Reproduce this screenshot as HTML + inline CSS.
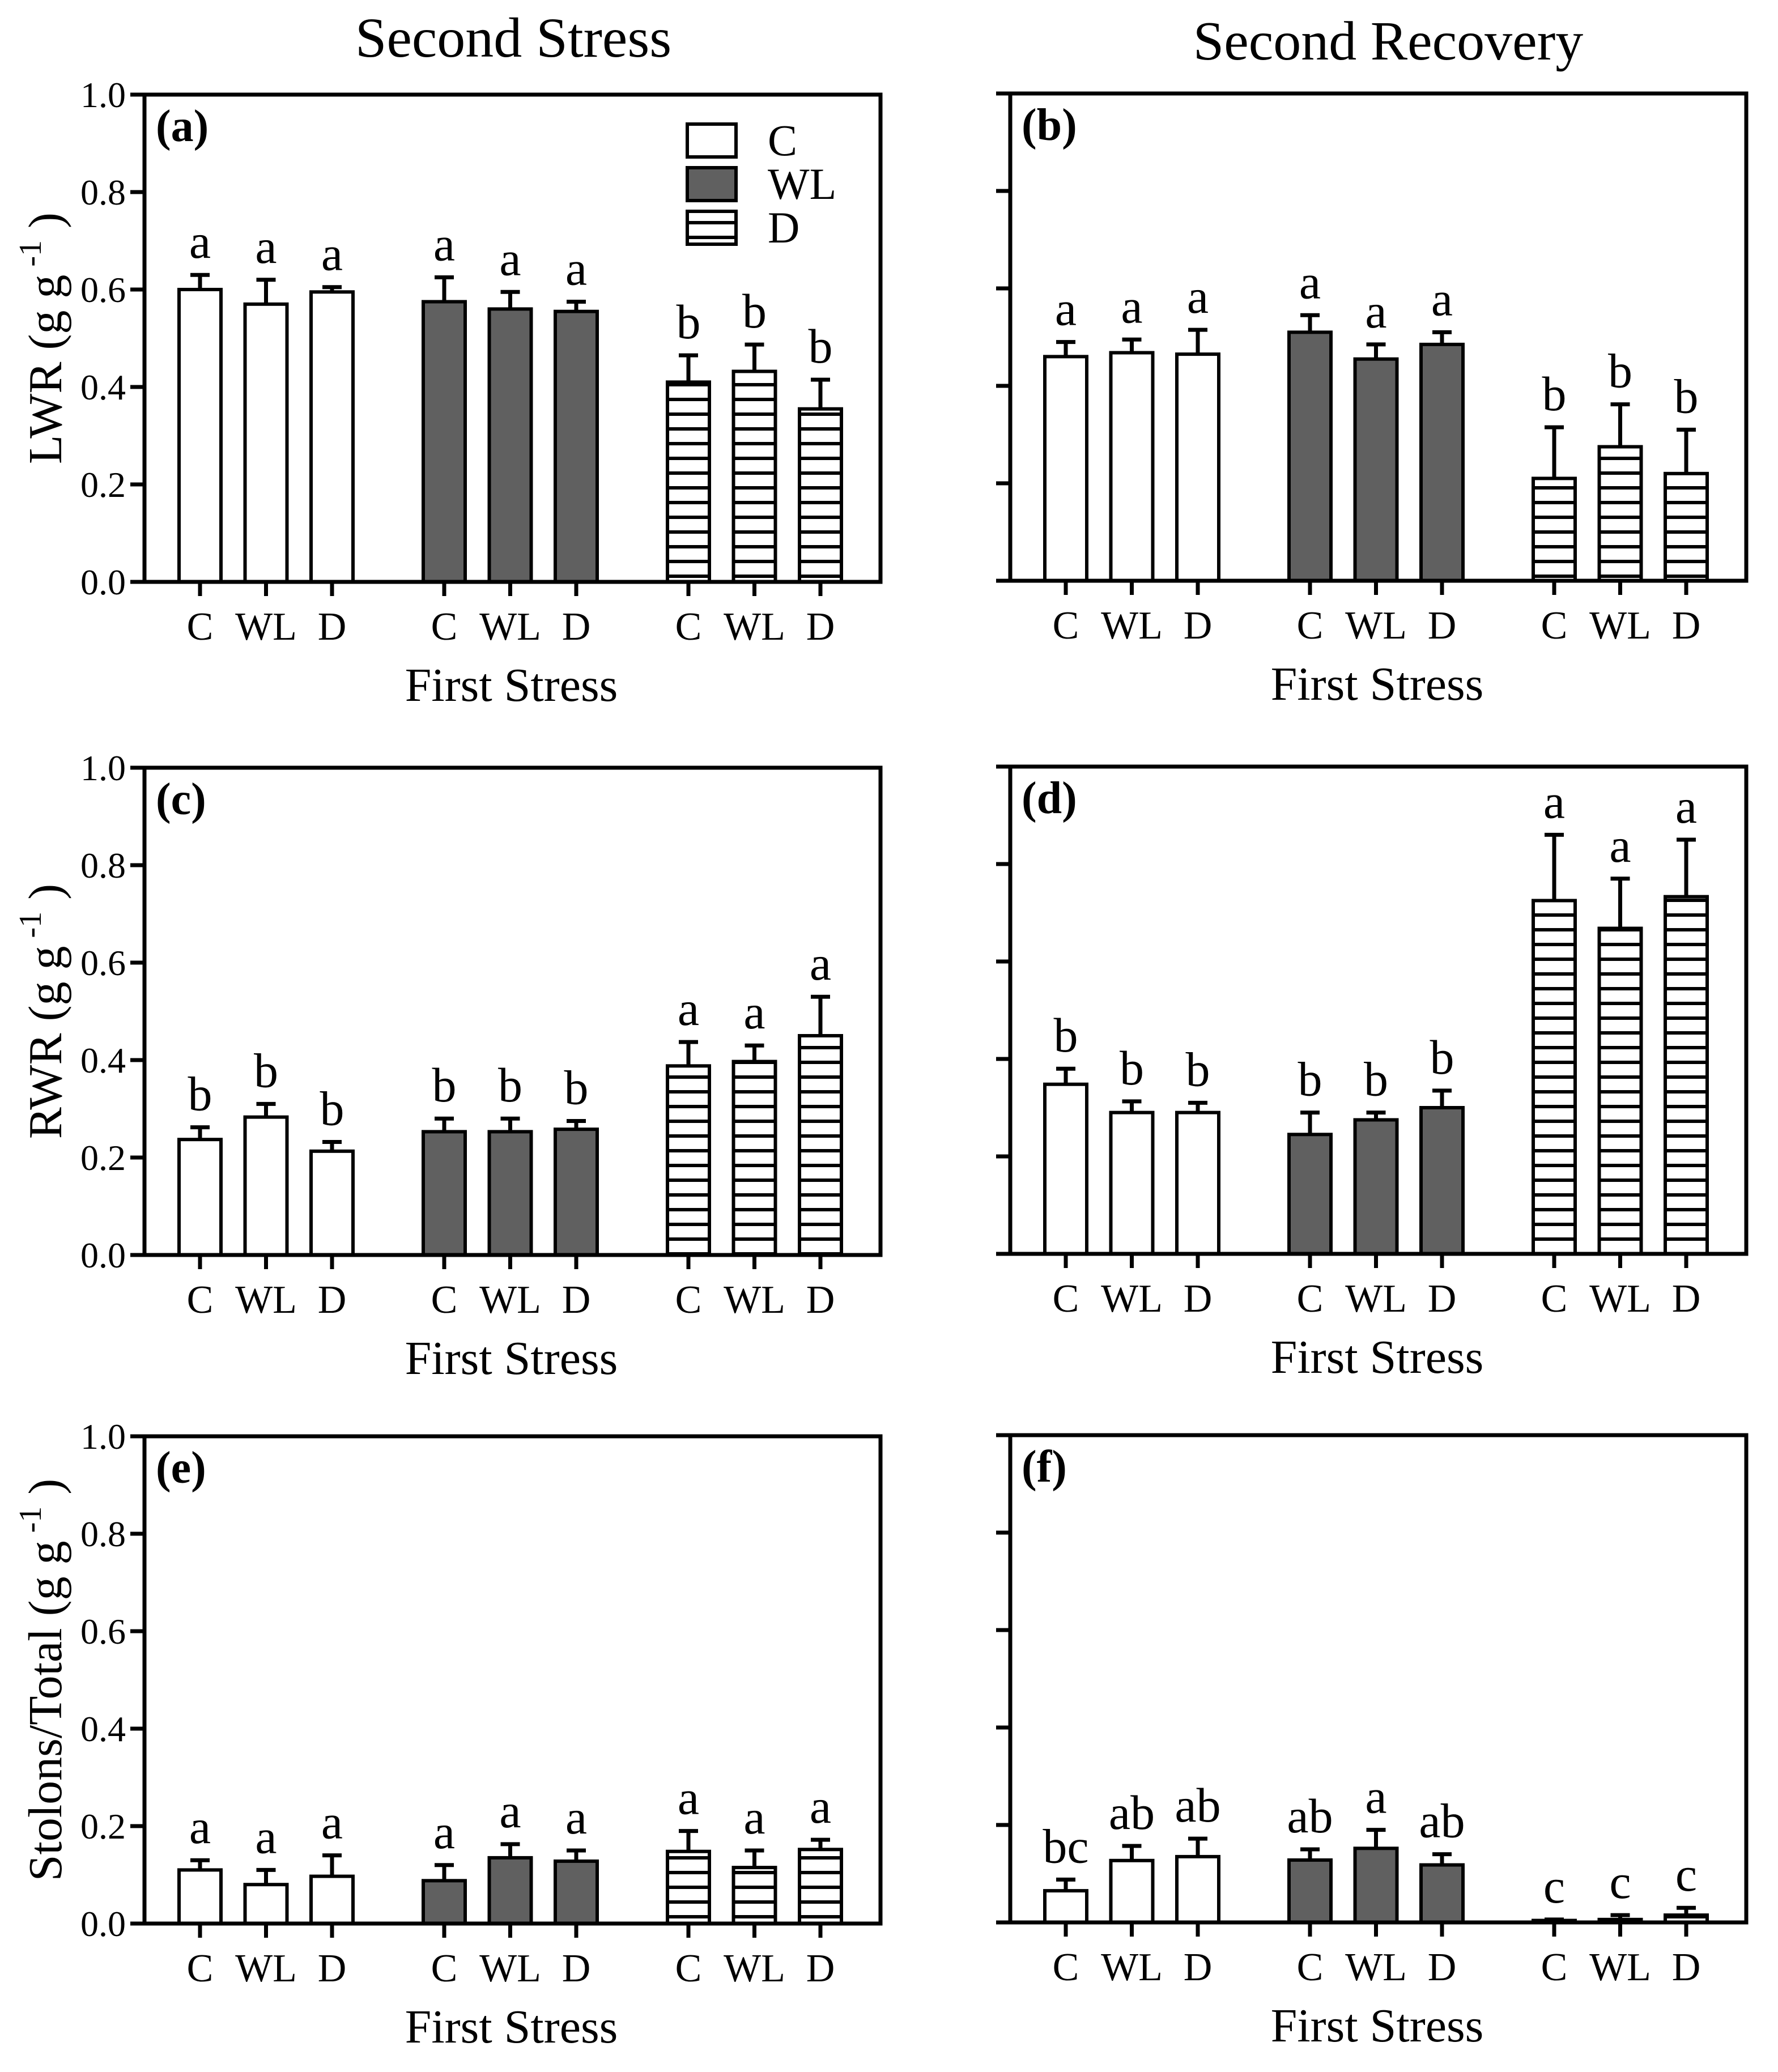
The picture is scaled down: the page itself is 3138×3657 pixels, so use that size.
<!DOCTYPE html>
<html><head><meta charset="utf-8"><style>
body{margin:0;background:#fff}
svg{display:block;font-family:"Liberation Serif",serif}
</style></head><body>
<svg id="chart" width="3138" height="3657" viewBox="0 0 3138 3657" xmlns="http://www.w3.org/2000/svg">
<defs>
<pattern id="hatch" patternUnits="userSpaceOnUse" width="40" height="26" y="0">
<rect x="0" y="0" width="40" height="26" fill="#fff"/>
<rect x="0" y="0" width="40" height="6" fill="#000"/>
</pattern>
</defs>
<text x="906" y="100" font-size="100" text-anchor="middle">Second Stress</text>
<text x="2450" y="105" font-size="98" text-anchor="middle">Second Recovery</text>
<g id="panels"></g>
</svg>
<script>
// shared categories
const groups = ['C','WL','D'];
const firstStress = ['C','WL','D'];
const yTicks = [0.0,0.2,0.4,0.6,0.8,1.0];
const yTickLabels = ['0.0','0.2','0.4','0.6','0.8','1.0'];

// panel (a) LWR second stress
const aVals = [0.60,0.57,0.595, 0.575,0.56,0.555, 0.41,0.432,0.355];
const aErr  = [0.63,0.62,0.605, 0.625,0.595,0.575, 0.465,0.487,0.415];
const aLet  = ['a','a','a','a','a','a','b','b','b'];
// panel (b) LWR second recovery
const bVals = [0.46,0.468,0.465, 0.51,0.455,0.485, 0.21,0.275,0.22];
const bErr  = [0.49,0.495,0.515, 0.545,0.485,0.51, 0.315,0.362,0.31];
const bLet  = ['a','a','a','a','a','a','b','b','b'];
// panel (c) RWR second stress
const cVals = [0.237,0.283,0.213, 0.253,0.253,0.258, 0.388,0.397,0.45];
const cErr  = [0.262,0.31,0.232, 0.28,0.28,0.275, 0.437,0.43,0.53];
const cLet  = ['b','b','b','b','b','b','a','a','a'];
// panel (d) RWR second recovery
const dVals = [0.348,0.29,0.29, 0.245,0.275,0.3, 0.725,0.668,0.733];
const dErr  = [0.38,0.313,0.31, 0.29,0.29,0.335, 0.86,0.77,0.85];
const dLet  = ['b','b','b','b','b','b','a','a','a'];
// panel (e) stolons second stress
const eVals = [0.11,0.08,0.097, 0.088,0.135,0.128, 0.148,0.115,0.152];
const eErr  = [0.13,0.11,0.14, 0.12,0.163,0.15, 0.19,0.15,0.172];
const eLet  = ['a','a','a','a','a','a','a','a','a'];
// panel (f) stolons second recovery
const fVals = [0.065,0.127,0.135, 0.128,0.152,0.118, 0.004,0.006,0.015];
const fErr  = [0.088,0.157,0.172, 0.15,0.19,0.14, 0.006,0.015,0.03];
const fLet  = ['bc','ab','ab','ab','a','ab','c','c','c'];

const NS='http://www.w3.org/2000/svg';
const root=document.getElementById('panels');
function mk(tag,attrs,parent){const e=document.createElementNS(NS,tag);for(const k in attrs)e.setAttribute(k,attrs[k]);(parent||root).appendChild(e);return e;}
const fills=['#fff','#606060','url(#hatch)'];
const W=1299,H=860;

function panel(key,px,py,vals,errs,lets,label,yTitle,showTickLabels,legend){
  const g=mk('g',{});
  
  
  const yS=v=>py+H-v*H;
  const xS=i=>px+98+(i%3)*116.5+Math.floor(i/3)*431;
  vals.forEach((v,i)=>{
    const gi=Math.floor(i/3);
    const x=xS(i), top=yS(v), bot=yS(0), et=yS(errs[i]);
    const l=mk('line',{x1:x,y1:top,x2:x,y2:et,stroke:'#000','stroke-width':7},g);
    
    
    const c=mk('line',{x1:x-17,y1:et,x2:x+17,y2:et,stroke:'#000','stroke-width':7},g);
    
    
    const r=mk('rect',{x:x-37,y:top,width:74,height:Math.max(bot-top,0.5),fill:fills[gi],stroke:'#000','stroke-width':6},g);
    
    
    const t=mk('text',{x:x,y:et-30,'font-size':86,'text-anchor':'middle'},g);
    t.textContent=lets[i];
    
    
    const tk=mk('line',{x1:x,y1:py+H,x2:x,y2:py+H+25,stroke:'#000','stroke-width':7},g);
    
    
    const xl=mk('text',{x:x,y:py+H+102,'font-size':70,'text-anchor':'middle'},g);
    xl.textContent=firstStress[i%3];
    
    
  });
  const fr=mk('rect',{x:px,y:py,width:W,height:H,fill:'none',stroke:'#000','stroke-width':7},g);
  
  
  yTicks.forEach((v,k)=>{
    const t=mk('line',{x1:px-25,y1:yS(v),x2:px,y2:yS(v),stroke:'#000','stroke-width':7},g);
    
    
    if(showTickLabels){
      const tl=mk('text',{x:px-33,y:yS(v)+22,'font-size':64,'text-anchor':'end'},g);
      tl.textContent=yTickLabels[k];
      
      
    }
  });
  const pl=mk('text',{x:px+20,y:py+82,'font-size':80,'font-weight':'bold'},g);
  pl.textContent=label;
  
  
  const xt=mk('text',{x:px+W/2-2,y:py+H+210,'font-size':84,'text-anchor':'middle'},g);
  xt.textContent='First Stress';
  
  
  if(yTitle){
    const yt=mk('text',{x:0,y:0,'font-size':84,'text-anchor':'middle',transform:'translate(108,'+(py+H/2)+') rotate(-90)'},g);
    
    
    const s1=mk('tspan',{},yt);s1.textContent=yTitle+' (g g';
    const s2=mk('tspan',{dy:-36,'font-size':56},yt);s2.textContent=' -1';
    const s3=mk('tspan',{dy:36},yt);s3.textContent=' )';
  }
  if(legend){
    const names=['C','WL','D'];
    names.forEach((n,k)=>{
      const ly=py+52+k*77;
      const lr=mk('rect',{x:px+958,y:ly,width:86,height:58,fill:fills[k],stroke:'#000','stroke-width':6},g);
      
      
      const lt=mk('text',{x:px+1100,y:ly+55,'font-size':78},g);
      lt.textContent=n;
      
      
    });
  }
}
panel('a',255,167,aVals,aErr,aLet,'(a)','LWR',true,true);
panel('b',1783,165,bVals,bErr,bLet,'(b)',null,false,false);
panel('c',255,1355,cVals,cErr,cLet,'(c)','RWR',true,false);
panel('d',1783,1353,dVals,dErr,dLet,'(d)',null,false,false);
panel('e',255,2535,eVals,eErr,eLet,'(e)','Stolons/Total',true,false);
panel('f',1783,2533,fVals,fErr,fLet,'(f)',null,false,false);
</script>
</body></html>
